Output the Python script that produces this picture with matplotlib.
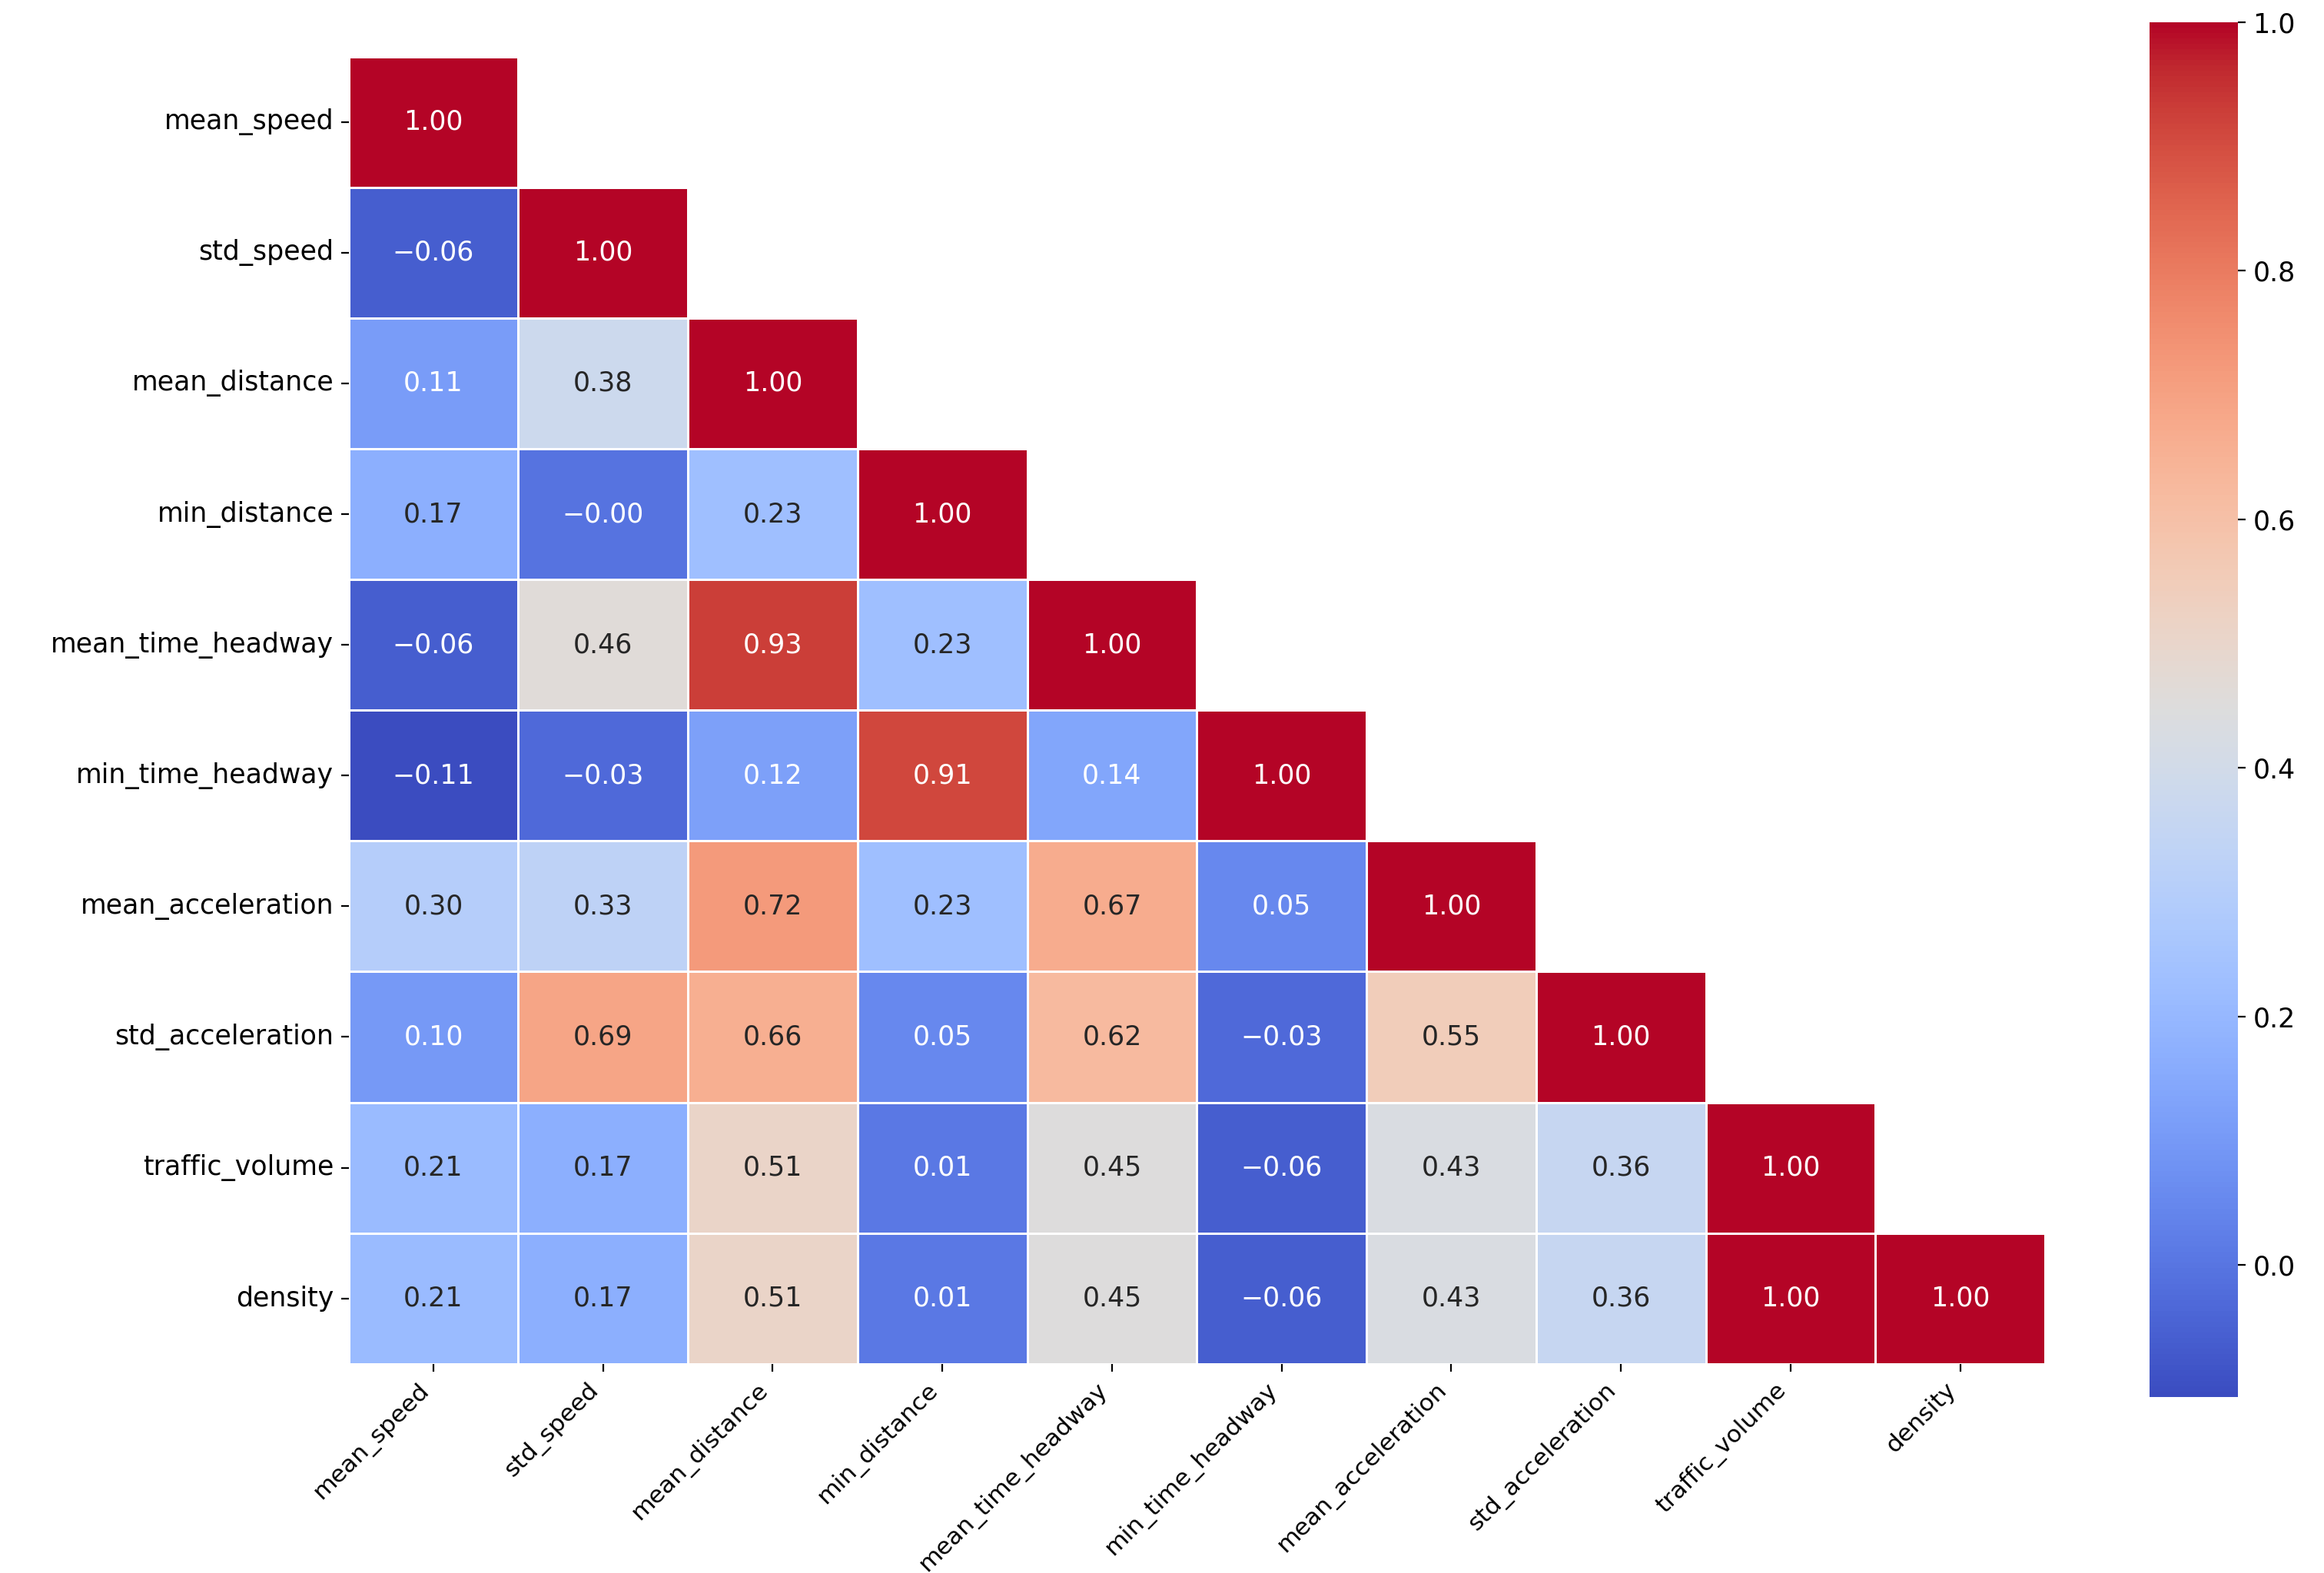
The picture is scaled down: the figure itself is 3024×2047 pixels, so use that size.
import numpy as np
import pandas as pd
import matplotlib
matplotlib.use("Agg")
import matplotlib.pyplot as plt
import seaborn as sns

FEATURES = ['mean_speed', 'std_speed', 'mean_distance', 'min_distance',
            'mean_time_headway', 'min_time_headway', 'mean_acceleration',
            'std_acceleration', 'traffic_volume', 'density']

# lower triangle of the correlation matrix, row by row
ROWS = [
    [1.00],
    [-0.06, 1.00],
    [0.11, 0.38, 1.00],
    [0.17, -0.004, 0.23, 1.00],
    [-0.06, 0.46, 0.93, 0.23, 1.00],
    [-0.106, -0.03, 0.12, 0.91, 0.14, 1.00],
    [0.30, 0.33, 0.72, 0.23, 0.67, 0.05, 1.00],
    [0.10, 0.69, 0.66, 0.05, 0.62, -0.03, 0.55, 1.00],
    [0.21, 0.17, 0.51, 0.01, 0.45, -0.06, 0.43, 0.36, 1.00],
    [0.21, 0.17, 0.51, 0.01, 0.45, -0.06, 0.43, 0.36, 1.00, 1.00],
]

n = len(FEATURES)
corr = np.zeros((n, n))
for i, row in enumerate(ROWS):
    for j, v in enumerate(row):
        corr[i, j] = v
        corr[j, i] = v
corr = pd.DataFrame(corr, index=FEATURES, columns=FEATURES)
mask = np.triu(np.ones((n, n), dtype=bool), k=1)

# annotation strings with a proper minus sign
labels = np.vectorize(lambda v: f"{v:.2f}".replace('-', '\u2212'))(corr.values)

fig = plt.figure(figsize=(15.12, 10.235), dpi=200)
ax = fig.add_axes([0.150, 0.133, 0.730, 0.831])
cax = fig.add_axes([0.925, 0.112, 0.038, 0.874])

sns.heatmap(corr, mask=mask, annot=labels, fmt='', cmap='coolwarm',
            linewidths=0.5, linecolor='white', ax=ax, cbar_ax=cax,
            annot_kws={'size': 12.5})

ax.set_xticklabels(FEATURES, rotation=45, ha='right', fontsize=11.3)
ax.set_yticklabels(FEATURES, rotation=0, fontsize=12.5)
cax.tick_params(labelsize=12.5)
cax.yaxis.set_major_formatter(matplotlib.ticker.FormatStrFormatter('%.1f'))

fig.savefig('out.png', dpi=200)
